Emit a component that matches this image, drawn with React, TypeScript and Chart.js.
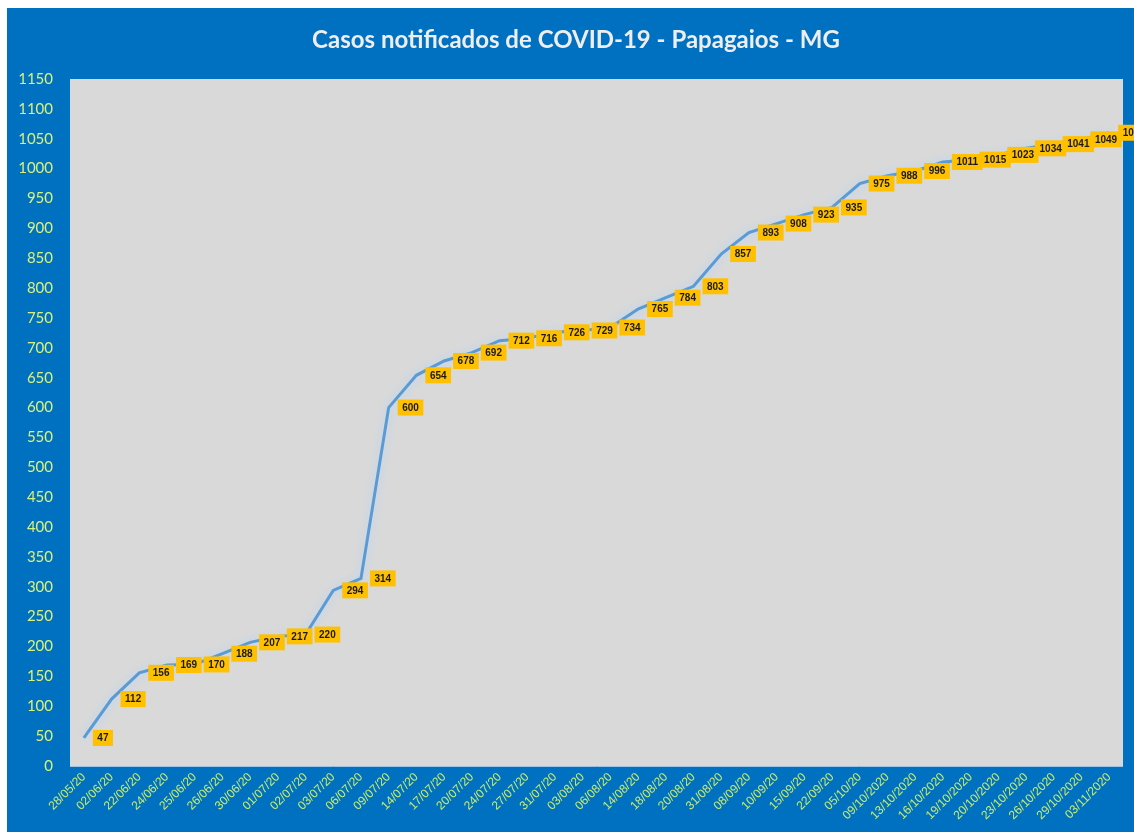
import React, { useEffect, useRef } from "react";
import { Chart, registerables } from "chart.js";

Chart.register(...registerables);

const titleText = "Casos notificados de COVID-19 - Papagaios - MG";

const dates = [
  "28/05/20", "02/06/20", "22/06/20", "24/06/20", "25/06/20", "26/06/20", "30/06/20",
  "01/07/20", "02/07/20", "03/07/20", "06/07/20", "09/07/20", "14/07/20", "17/07/20",
  "20/07/20", "24/07/20", "27/07/20", "31/07/20", "03/08/20", "06/08/20", "14/08/20",
  "18/08/20", "20/08/20", "31/08/20", "08/09/20", "10/09/20", "15/09/20", "22/09/20",
  "05/10/20", "09/10/2020", "13/10/2020", "16/10/2020", "19/10/2020", "20/10/2020",
  "23/10/2020", "26/10/2020", "29/10/2020", "03/11/2020",
];

const cases = [
  47, 112, 156, 169, 170, 188, 207, 217, 220, 294, 314, 600, 654, 678, 692, 712, 716,
  726, 729, 734, 765, 784, 803, 857, 893, 908, 923, 935, 975, 988, 996, 1011, 1015,
  1023, 1034, 1041, 1049, 1060,
];

const yMin = 0;
const yMax = 1150;
const yStep = 50;

const W = 1127;
const H = 824;

const decorPlugin = {
  id: "decor",
  beforeDraw(chart: any) {
    const { ctx, chartArea } = chart;
    ctx.save();
    ctx.fillStyle = "#0070c0";
    ctx.fillRect(0, 0, chart.width, chart.height);
    ctx.fillStyle = "#d9d9d9";
    ctx.fillRect(chartArea.left, chartArea.top, chartArea.right - chartArea.left, chartArea.bottom - chartArea.top);
    ctx.strokeStyle = "#9dc3e6";
    ctx.lineWidth = 1;
    ctx.beginPath();
    ctx.moveTo(chartArea.left, chartArea.bottom + 0.5);
    ctx.lineTo(chartArea.right, chartArea.bottom + 0.5);
    ctx.stroke();
    ctx.fillStyle = "#eeeeee";
    ctx.font = "bold 24px Lato";
    ctx.textAlign = "center";
    ctx.textBaseline = "middle";
    ctx.fillText(titleText, 569, 32);
    ctx.restore();
  },
  beforeDatasetsDraw(chart: any) {
    const ctx = chart.ctx;
    ctx.save();
    ctx.shadowColor = "rgba(175, 210, 245, 1)";
    ctx.shadowBlur = 10;
    ctx.shadowOffsetX = 0;
    ctx.shadowOffsetY = 0;
  },
  afterDatasetsDraw(chart: any) {
    const ctx = chart.ctx;
    ctx.restore();
    const meta = chart.getDatasetMeta(0);
    const data = chart.data.datasets[0].data as number[];
    ctx.save();
    ctx.font = "bold 10px 'Liberation Sans'";
    ctx.textAlign = "center";
    ctx.textBaseline = "middle";
    meta.data.forEach((pt: any, i: number) => {
      const txt = String(data[i]);
      const tw = ctx.measureText(txt).width;
      const bw = tw + 9;
      const bh = 16;
      const left = pt.x + 9;
      const top = pt.y - bh / 2;
      ctx.fillStyle = "#ffc000";
      ctx.fillRect(left, top, bw, bh);
      ctx.fillStyle = "#1a1a1a";
      ctx.fillText(txt, left + bw / 2, pt.y + 0.5);
    });
    ctx.restore();
  },
};

export default function App() {
  const ref = useRef<HTMLCanvasElement | null>(null);

  useEffect(() => {
    document.body.style.overflow = "hidden";
    if (!ref.current) return;
    const chart = new Chart(ref.current, {
      type: "line",
      data: {
        labels: dates,
        datasets: [
          {
            data: cases,
            borderColor: "#5b9bd5",
            borderWidth: 3,
            pointRadius: 0,
            pointHoverRadius: 0,
            tension: 0,
            fill: false,
          },
        ],
      },
      options: {
        responsive: false,
        animation: false,
        events: [],
        layout: { padding: { top: 71, right: 11, left: 0, bottom: 0 } },
        plugins: {
          legend: { display: false },
          title: { display: false },
          tooltip: { enabled: false },
        },
        scales: {
          x: {
            type: "category",
            offset: true,
            grid: { display: false, drawTicks: false },
            border: { display: false },
            ticks: {
              color: "#c8ee6a",
              font: { family: "'Liberation Sans'", size: 12 },
              minRotation: 45,
              maxRotation: 45,
              autoSkip: false,
              padding: 4,
            },
            afterFit: (s: any) => {
              s.height = 66;
            },
          },
          y: {
            min: yMin,
            max: yMax,
            grid: { display: false, drawTicks: false },
            border: { display: false },
            ticks: {
              stepSize: yStep,
              color: "#d8f27a",
              font: { family: "Lato", size: 15 },
              padding: 17,
              callback: (v: any) => String(v),
            },
            afterFit: (s: any) => {
              s.width = 63;
            },
          },
        },
      },
      plugins: [decorPlugin],
    });
    return () => chart.destroy();
  }, []);

  return (
    <div style={{ position: "absolute", left: 7, top: 8, width: W, height: H }}>
      <canvas ref={ref} width={W} height={H} style={{ display: "block" }} />
    </div>
  );
}
